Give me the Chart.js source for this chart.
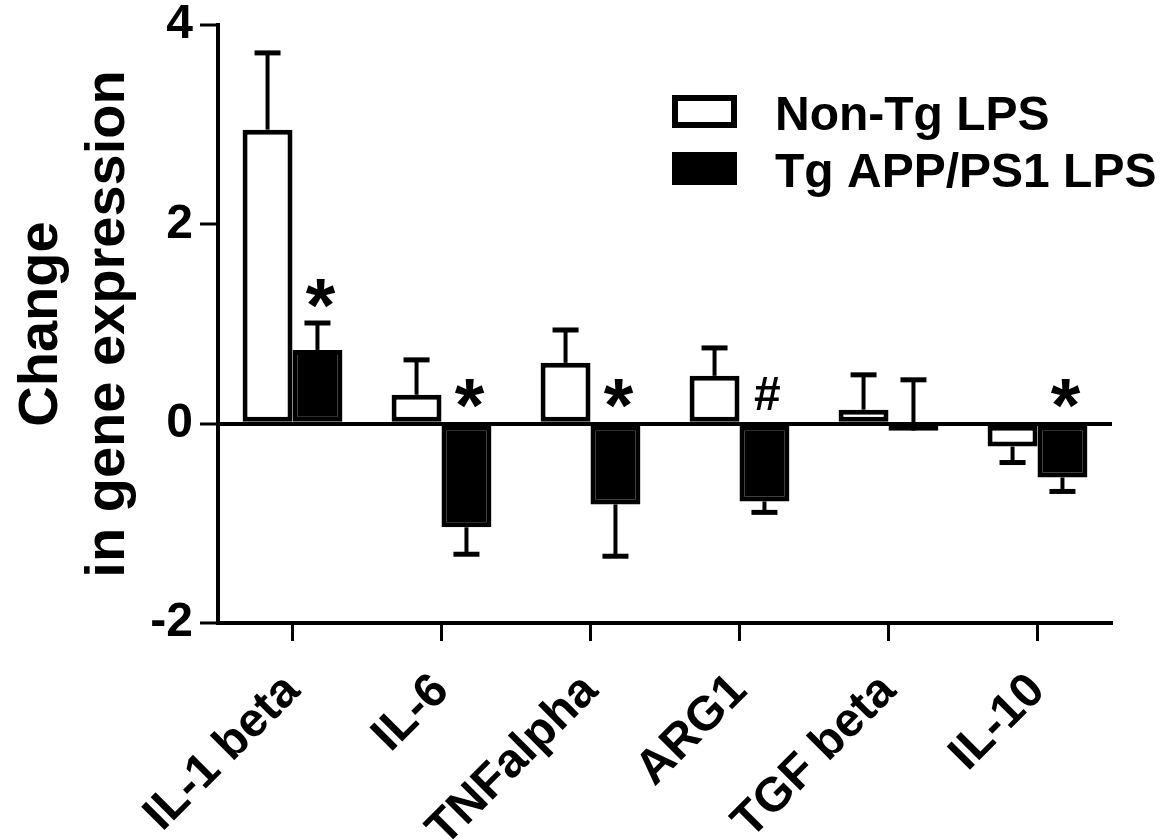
<!DOCTYPE html>
<html><head><meta charset="utf-8">
<script src="https://cdn.jsdelivr.net/npm/chart.js@4.4.0/dist/chart.umd.min.js"></script>
<style>html,body{margin:0;padding:0;background:#fff}#wrap{width:1174px;height:840px}</style>
</head><body><div id="wrap"><canvas id="c" width="1174" height="840"></canvas></div>
<script>
const categories = ['IL-1 beta', 'IL-6', 'TNFalpha', 'ARG1', 'TGF beta', 'IL-10'];
const seriesNames = ['Non-Tg LPS', 'Tg APP/PS1 LPS'];
const nonTgValues = [2.95, 0.29, 0.61, 0.48, 0.14, -0.23];
const tgValues = [0.74, -1.04, -0.81, -0.78, -0.07, -0.54];
const nonTgErrorTips = [3.72, 0.64, 0.94, 0.76, 0.49, -0.39];
const tgErrorTips = [1.01, -1.31, -1.33, -0.89, 0.44, -0.68];
const tgMarks = ['*', '*', '*', '#', '', '*'];
const yTicks = [-2, 0, 2, 4];
const yTitle = ['Change', 'in gene expression'];

const FONT = "'Liberation Sans', Arial, sans-serif";

const errorBars = {
  id: 'errorBars',
  afterDatasetsDraw(chart) {
    const ctx = chart.ctx, ys = chart.scales.y;
    [nonTgErrorTips, tgErrorTips].forEach((tips, di) => {
      const meta = chart.getDatasetMeta(di);
      meta.data.forEach((bar, i) => {
        const y0 = ys.getPixelForValue(chart.data.datasets[di].data[i]);
        const y1 = ys.getPixelForValue(tips[i]);
        ctx.save();
        ctx.strokeStyle = '#000';
        ctx.lineWidth = 4;
        ctx.beginPath(); ctx.moveTo(bar.x, y0); ctx.lineTo(bar.x, y1); ctx.stroke();
        ctx.lineWidth = 5;
        ctx.beginPath(); ctx.moveTo(bar.x - 13, y1); ctx.lineTo(bar.x + 13, y1); ctx.stroke();
        ctx.restore();
      });
    });
  }
};

const marks = {
  id: 'marks',
  afterDatasetsDraw(chart) {
    const ctx = chart.ctx, ys = chart.scales.y;
    const meta = chart.getDatasetMeta(1);
    meta.data.forEach((bar, i) => {
      const m = tgMarks[i];
      if (!m) return;
      const top = Math.max(0, tgValues[i], tgErrorTips[i]);
      const yc = ys.getPixelForValue(top) - 30;
      ctx.save();
      ctx.fillStyle = '#000';
      ctx.font = (m === '*' ? 'bold 76px ' : 'bold 48px ') + FONT;
      ctx.textAlign = 'center';
      ctx.textBaseline = 'alphabetic';
      const mt = ctx.measureText(m);
      const base = yc + (mt.actualBoundingBoxAscent - mt.actualBoundingBoxDescent) / 2;
      ctx.fillText(m, bar.x + 3, base);
      ctx.restore();
    });
  }
};

const legendBox = {
  id: 'legendBox',
  afterDraw(chart) {
    const ctx = chart.ctx;
    const x = 672, w = 65, h = 33;
    const rows = [95, 152];
    ctx.save();
    chart.data.datasets.forEach((ds, i) => {
      const y = rows[i];
      ctx.fillStyle = ds.backgroundColor;
      ctx.fillRect(x, y, w, h);
      ctx.strokeStyle = '#000';
      ctx.lineWidth = 6;
      ctx.strokeRect(x + 3, y + 3, w - 6, h - 6);
      ctx.fillStyle = '#000';
      ctx.font = 'bold 48px ' + FONT;
      ctx.textAlign = 'left';
      ctx.textBaseline = 'alphabetic';
      ctx.fillText(ds.label, 775, y + 35);
    });
    ctx.restore();
  }
};

new Chart(document.getElementById('c'), {
  type: 'bar',
  data: {
    labels: categories,
    datasets: [
      { label: seriesNames[0], data: nonTgValues, backgroundColor: '#ffffff', borderColor: '#000000', borderWidth: 5, borderSkipped: false, categoryPercentage: 0.67, barPercentage: 1 },
      { label: seriesNames[1], data: tgValues, backgroundColor: '#000000', borderColor: '#000000', borderWidth: 5, borderSkipped: false, categoryPercentage: 0.67, barPercentage: 1 }
    ]
  },
  options: {
    responsive: false,
    animation: false,
    devicePixelRatio: 1,
    layout: { padding: { left: 8, top: 25, right: 62, bottom: 0 } },
    plugins: { legend: { display: false }, tooltip: { enabled: false } },
    scales: {
      x: {
        offset: true,
        grid: { display: true, drawOnChartArea: false, offset: false, tickLength: 18, tickWidth: 3, tickColor: '#000', color: '#000' },
        border: { display: true, width: 4, color: '#000' },
        ticks: { font: { family: FONT, weight: 'bold', size: 48 }, color: '#000', minRotation: 45, maxRotation: 45, padding: 22 },
        afterFit: s => { s.height = 217; s.paddingLeft = 0; s.paddingRight = 0; }
      },
      y: {
        min: -2, max: 4,
        afterBuildTicks: s => { s.ticks = yTicks.map(v => ({ value: v })); },
        grid: { lineWidth: c => (c.tick && c.tick.value === 0 ? 4 : 0), color: '#000', tickLength: 18, tickWidth: 3, tickColor: '#000', drawOnChartArea: true },
        border: { display: true, width: 4, color: '#000' },
        ticks: { font: { family: FONT, weight: 'bold', size: 48 }, color: '#000', padding: 7 },
        title: { display: true, text: yTitle, font: { family: FONT, weight: 'bold', size: 56, lineHeight: 1.2 }, color: '#000', padding: 0 },
        afterFit: s => { s.width = 210; s.paddingTop = 0; s.paddingBottom = 0; }
      }
    }
  },
  plugins: [errorBars, marks, legendBox]
});
</script></body></html>
